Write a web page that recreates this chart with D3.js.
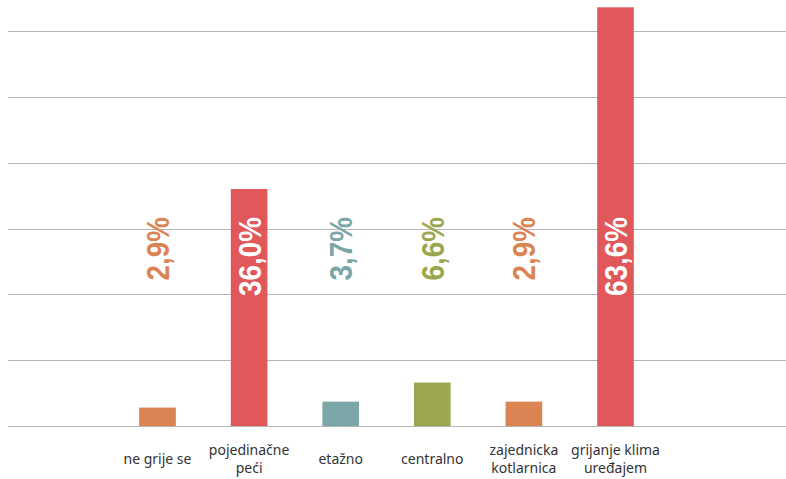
<!DOCTYPE html>
<html><head><meta charset="utf-8">
<script src="https://cdn.jsdelivr.net/npm/d3@7"></script>
<style>body{margin:0;background:#fff}svg{display:block}</style>
</head><body>
<script>
const categories = [["ne grije se"], ["pojedinačne", "peći"], ["etažno"], ["centralno"], ["zajednicka", "kotlarnica"], ["grijanje klima", "uređajem"]];
const barValues = [2.8, 36.0, 3.7, 6.6, 3.7, 63.6];
const valueLabels = ["2,9%", "36,0%", "3,7%", "6,6%", "2,9%", "63,6%"];
const barColors = ["#DB8453", "#E0585A", "#7BA6A7", "#9BA64E", "#DB8453", "#E0585A"];
const labelColors = ["#DB8453", "#FFFFFF", "#7BA6A7", "#9BA64E", "#DB8453", "#FFFFFF"];
const gridTicks = [0, 10, 20, 30, 40, 50, 60];

const W = 786, H = 479;
const svg = d3.select("body").append("svg").attr("width", W).attr("height", H);
const idx = categories.map((d, i) => i);
const x = d3.scaleBand().domain(idx).range([111.7, 661.3]).paddingInner(0.6).paddingOuter(0.3);
const y = d3.scaleLinear().domain([0, 60]).range([426, 31]);

svg.append("g").selectAll("line").data(gridTicks).join("line")
  .attr("x1", 8).attr("x2", W)
  .attr("y1", d => Math.round(y(d)) + 0.5).attr("y2", d => Math.round(y(d)) + 0.5)
  .attr("stroke", "#b4b4b4").attr("stroke-width", 1);

svg.append("g").selectAll("rect").data(barValues).join("rect")
  .attr("x", (d, i) => x(i)).attr("width", x.bandwidth())
  .attr("y", d => y(d)).attr("height", d => y(0) - y(d))
  .attr("fill", (d, i) => barColors[i]);

svg.append("g").selectAll("text").data(valueLabels).join("text")
  .attr("transform", (d, i) => `translate(${x(i) + x.bandwidth() / 2 + 11.5},217) rotate(-90) scale(0.87,1)`)
  .attr("text-anchor", "end")
  .attr("font-family", "'Liberation Sans', sans-serif")
  .attr("font-weight", "bold").attr("font-size", 32)
  .attr("fill", (d, i) => labelColors[i])
  .text(d => d);

const xl = svg.append("g").selectAll("text").data(categories).join("text")
  .attr("text-anchor", "middle")
  .attr("font-family", "'Noto Sans', sans-serif").attr("font-size", 14)
  .attr("fill", "#333")
  .attr("x", (d, i) => x(i) + x.bandwidth() / 2)
  .attr("y", d => d.length === 1 ? 464 : 455);
xl.selectAll("tspan").data(d => d).join("tspan")
  .attr("x", function () { return this.parentNode.getAttribute("x"); })
  .attr("dy", (d, j) => j === 0 ? 0 : 18)
  .text(d => d);
</script>
</body></html>
